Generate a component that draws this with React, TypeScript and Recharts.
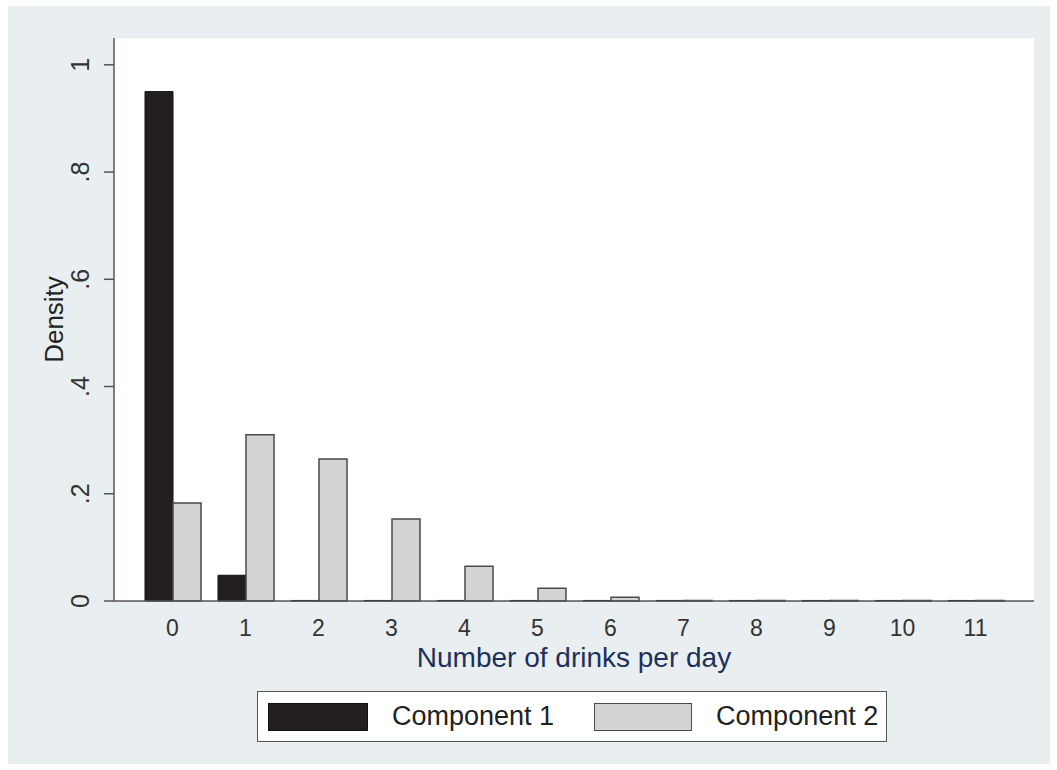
import React from 'react';
import { BarChart, Bar, XAxis, YAxis, CartesianGrid, Legend } from 'recharts';

// drinks per day (categories)
const drinks = ['0', '1', '2', '3', '4', '5', '6', '7', '8', '9', '10', '11'];
// density of each mixture component
const component1 = [0.95, 0.048, 0.001, 0.001, 0.001, 0.001, 0.001, 0.001, 0.001, 0.001, 0.001, 0.001];
const component2 = [0.183, 0.31, 0.265, 0.153, 0.065, 0.024, 0.007, 0.001, 0.001, 0.001, 0.001, 0.001];
const densityTicks = [0, 0.2, 0.4, 0.6, 0.8, 1];

const data = drinks.map((d, i) => ({
  drinks: d,
  c1: component1[i],
  c2: component2[i],
}));

const FONT = '"Liberation Sans", Arial, Helvetica, sans-serif';
const C1_FILL = '#231f20';
const C2_FILL = '#d1d3d4';
const EDGE = '#4a4a4a';

const fmtDensity = (v: number) => (v === 0 ? '0' : v === 1 ? '1' : String(v).replace(/^0/, ''));

const YTick = (props: any) => {
  const { x, y, payload } = props;
  return (
    <text
      x={x + 1}
      y={y}
      transform={`rotate(-90 ${x + 1} ${y})`}
      textAnchor="middle"
      fontSize={25}
      fill="#333"
      fontFamily={FONT}
    >
      {fmtDensity(payload.value)}
    </text>
  );
};

// y title, centred on the plot height
const DensityLabel = (props: any) => {
  const { viewBox } = props;
  const cx = viewBox.x + 9;
  const cy = viewBox.y + viewBox.height / 2;
  return (
    <text
      x={cx}
      y={cy}
      transform={`rotate(-90 ${cx} ${cy})`}
      textAnchor="middle"
      fontSize={26}
      fill="#222"
      fontFamily={FONT}
    >
      Density
    </text>
  );
};

const LegendBox = () => (
  <div
    style={{
      boxSizing: 'border-box',
      width: 630,
      height: 51,
      border: '1.5px solid #555',
      background: '#fff',
      display: 'flex',
      alignItems: 'center',
      fontFamily: FONT,
      fontSize: 27,
      color: '#222',
    }}
  >
    <div style={{ width: 100, height: 28, background: C1_FILL, border: '1px solid #111', boxSizing: 'border-box', marginLeft: 10 }} />
    <span style={{ marginLeft: 24 }}>Component 1</span>
    <div style={{ width: 98, height: 28, background: C2_FILL, border: `1.5px solid ${EDGE}`, boxSizing: 'border-box', marginLeft: 40 }} />
    <span style={{ marginLeft: 24 }}>Component 2</span>
  </div>
);

export default function App() {
  return (
    <div style={{ position: 'absolute', left: 0, top: 0, width: 1057, height: 770, background: '#fff' }}>
      <div style={{ position: 'absolute', left: 8, top: 6, width: 1042, height: 758, background: '#e9eff0' }}>
        <BarChart
          width={1042}
          height={758}
          data={data}
          margin={{ top: 32, right: 16, left: 46, bottom: 93 }}
          barCategoryGap={9}
          barGap={0}
          style={{ fontFamily: FONT }}
        >
          <rect x={106} y={32} width={920} height={563} fill="#fff" />
          <CartesianGrid vertical={false} stroke="#e2eaec" strokeWidth={2} />
          <XAxis
            dataKey="drinks"
            padding={{ left: 22, right: 22 }}
            tickLine={false}
            tickSize={0}
            tickMargin={19}
            axisLine={{ stroke: '#555', strokeWidth: 1.5 }}
            tick={{ fontSize: 23, fill: '#333', fontFamily: FONT }}
            interval={0}
            height={70}
            label={{
              value: 'Number of drinks per day',
              position: 'insideBottom',
              offset: 4,
              fontSize: 28,
              fill: '#1f2f5c',
              fontFamily: FONT,
            }}
          />
          <YAxis
            domain={[0, 1.05]}
            ticks={densityTicks}
            interval={0}
            width={60}
            tickSize={10}
            tickMargin={16}
            tickLine={{ stroke: '#555', strokeWidth: 1.5 }}
            axisLine={{ stroke: '#555', strokeWidth: 1.5 }}
            tick={<YTick />}
            label={<DensityLabel />}
          />
          <Legend
            layout="vertical"
            verticalAlign="middle"
            align="center"
            wrapperStyle={{ left: 249, top: 685, width: 630 }}
            content={<LegendBox />}
          />
          <Bar dataKey="c1" name="Component 1" fill={C1_FILL} stroke="#111" strokeWidth={1} isAnimationActive={false} />
          <Bar dataKey="c2" name="Component 2" fill={C2_FILL} stroke={EDGE} strokeWidth={1.5} isAnimationActive={false} />
        </BarChart>
      </div>
    </div>
  );
}
